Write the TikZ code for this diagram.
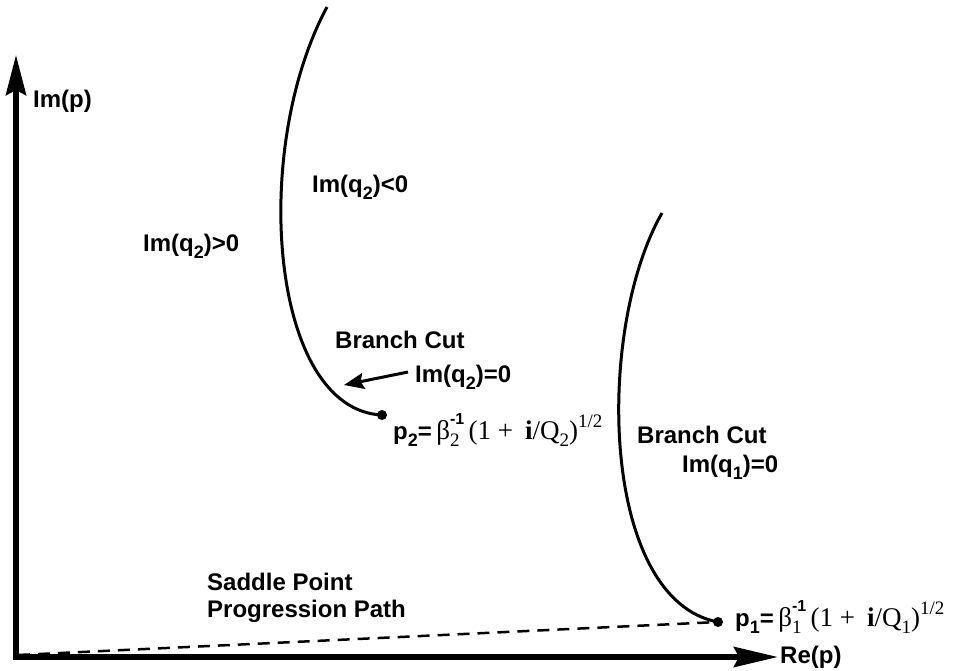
\documentclass[tikz,border=0pt]{standalone}
\usepackage{fontspec}
\setmainfont{Liberation Serif}
\setsansfont{Liberation Sans}
\usetikzlibrary{arrows.meta}
\newcommand{\lowsub}[1]{\raisebox{-0.3em}{\fontsize{18}{18}\selectfont #1}}
\newcommand{\serifsub}[1]{\raisebox{-0.28em}{\fontsize{19}{19}\selectfont #1}}
\newcommand{\highsup}[1]{\raisebox{0.42em}{\fontsize{19}{19}\selectfont #1}}
\newcommand{\betapair}[2]{β\rlap{\raisebox{0.55em}{\fontsize{16}{16}\selectfont\sffamily\bfseries #1}}\raisebox{-0.28em}{\fontsize{19}{19}\selectfont #2}}
\tikzset{
  lbl/.style={font=\fontsize{24}{28}\selectfont\sffamily\bfseries, inner sep=0pt, anchor=base west},
  frm/.style={font=\fontsize{27}{30}\selectfont, inner sep=0pt, anchor=base west},
  axis/.style={line width=5.5pt, line join=miter,
     {Stealth[length=40pt,width=20pt,inset=5pt]}-{Stealth[length=44pt,width=20pt,inset=5pt]}},
  cut/.style={line width=3pt},
  pdot/.style={circle, fill=black, inner sep=0pt, minimum size=10pt},
  pointer/.style={line width=3pt, -{Stealth[length=20pt,width=16pt,inset=3pt]}},
  sppath/.style={line width=2.5pt, dash pattern=on 12pt off 8pt}
}
\begin{document}
\begin{tikzpicture}[x=1pt,y=-1pt]
\useasboundingbox (0,0) rectangle (962,670);
% axes
\coordinate (ytip) at (16,55);
\coordinate (origin) at (16,657);
\coordinate (xtip) at (778,657);
\draw[axis] (ytip) -- (origin) -- (xtip);
\node[lbl] (imp) at (33,107) {Im(p)};
\node[lbl] (rep) at (780,663) {Re(p)};
% branch cut 2
\coordinate (c2top) at (327,7);
\node[pdot] (p2) at (382,415) {};
\draw[cut] (c2top) .. controls (250,150) and (270,410) .. (p2.center);
% branch cut 1
\coordinate (c1top) at (662,213);
\node[pdot] (p1) at (718,622) {};
\draw[cut] (c1top) .. controls (595,330) and (600,600) .. (p1.center);
% dashed path
\coordinate (sp0) at (18,655);
\draw[sppath] (sp0) -- (p1.center);
% labels
\node[lbl] (q2neg) at (312,192) {Im(q\lowsub{2})<0};
\node[lbl] (q2pos) at (143,251) {Im(q\lowsub{2})>0};
\node[lbl] (bc2) at (335,348) {Branch Cut};
\node[lbl] (q2zero) at (415,382) {Im(q\lowsub{2})=0};
\coordinate (c2hit) at (344,385);
\coordinate (ptrstart) at (408,372);
\draw[pointer] (ptrstart) -- (c2hit);
\node[frm] (p2lbl) at (393,439) {{\sffamily\bfseries\fontsize{24}{28}\selectfont p\lowsub{2}=}\,\betapair{-1}{2}\hspace{9pt}(1 +\hspace{12pt}\textbf{i}/Q\serifsub{2})\highsup{1/2}};
\node[lbl] (bc1) at (637,443) {Branch Cut};
\node[lbl] (q1zero) at (682,472) {Im(q\lowsub{1})=0};
\node[lbl] (spp1) at (207,590) {Saddle Point};
\node[lbl] (spp2) at (207,617) {Progression Path};
\node[frm] (p1lbl) at (735,626) {{\sffamily\bfseries\fontsize{24}{28}\selectfont p\lowsub{1}=}\,\betapair{-1}{1}\hspace{9pt}(1 +\hspace{12pt}\textbf{i}/Q\serifsub{1})\highsup{1/2}};
\end{tikzpicture}
\end{document}
